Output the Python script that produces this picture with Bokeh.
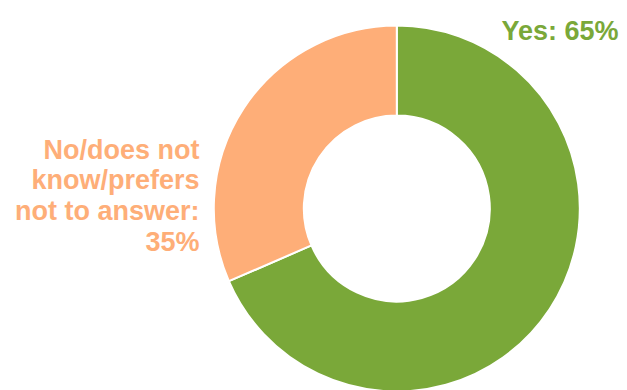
import numpy as np
from bokeh.plotting import figure
from bokeh.models import Range1d
from bokeh.core.properties import value
from bokeh.embed import file_html
from bokeh.resources import INLINE

# Data (slice shares as drawn; label texts as printed)
categories = ["Yes", "No/does not know/prefers not to answer"]
shares = [68.5, 31.5]
label_yes = ["Yes: 65%"]
label_no = ["No/does not", "know/prefers", "not to answer:", "35%"]
colors = ["#7AA839", "#FEAE78"]

W, H = 627, 390
p = figure(width=W, height=H, output_backend="svg", toolbar_location=None,
           x_range=Range1d(0, W), y_range=Range1d(0, H), min_border=0)
p.axis.visible = False
p.grid.visible = False
p.outline_line_color = None
p.background_fill_color = "white"

cx, cy = 396.3, 182.0
r_in, r_out = 93, 183

fr = np.array(shares) / sum(shares)
cum = np.concatenate([[0], np.cumsum(fr)])
starts = np.pi / 2 - 2 * np.pi * cum[:-1]
ends = np.pi / 2 - 2 * np.pi * cum[1:]

p.annular_wedge(x=cx, y=cy, inner_radius=r_in, outer_radius=r_out,
                start_angle=list(starts), end_angle=list(ends), direction="clock",
                fill_color=colors, line_color="white", line_width=2)

font = value("Liberation Sans")
p.text(x=[618], y=[360], text=label_yes, text_align="right", text_baseline="alphabetic",
       text_font=font, text_font_style="bold", text_font_size="27px", text_color=colors[0])

ys = [241 - i * 30.7 for i in range(len(label_no))]
p.text(x=[199] * len(label_no), y=ys, text=label_no, text_align="right",
       text_baseline="alphabetic", text_font=font, text_font_style="bold",
       text_font_size="27px", text_color=colors[1])

open("out.html", "w").write(file_html(p, INLINE))
